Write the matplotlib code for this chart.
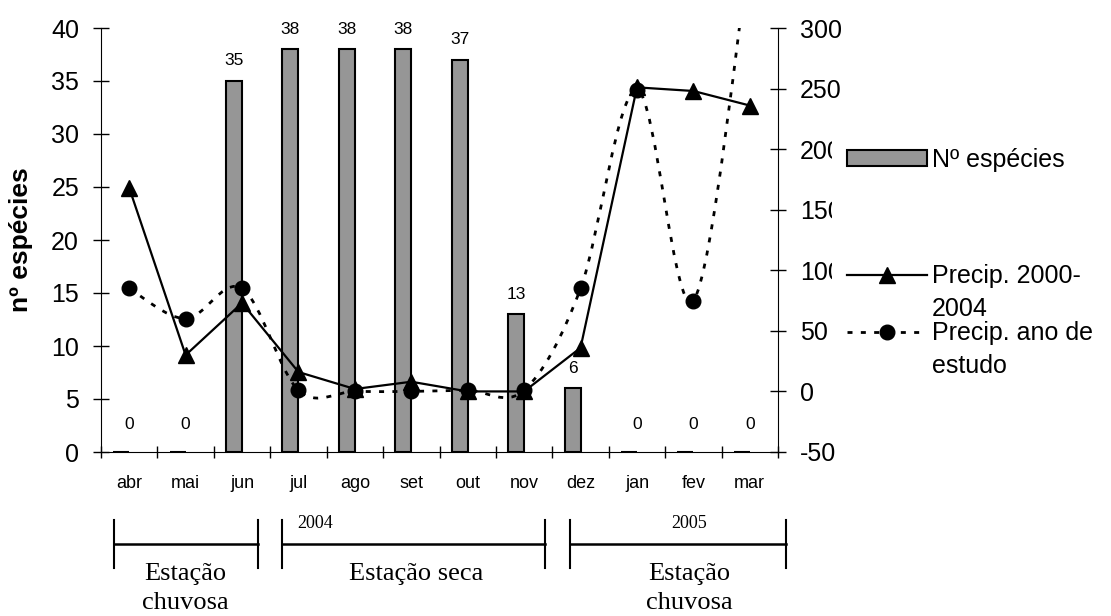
import numpy as np
import matplotlib
matplotlib.use('Agg')
import matplotlib.pyplot as plt
from matplotlib.path import Path
from matplotlib.patches import PathPatch, Rectangle
from matplotlib.lines import Line2D

plt.rcParams['font.family'] = ['Liberation Sans', 'DejaVu Sans']
plt.rcParams['axes.unicode_minus'] = False

# dados
meses = ['abr', 'mai', 'jun', 'jul', 'ago', 'set', 'out', 'nov', 'dez', 'jan', 'fev', 'mar']
n_especies = [0, 0, 35, 38, 38, 38, 37, 13, 6, 0, 0, 0]
precip_media = [168, 30, 73, 16, 2, 8, 0, 0, 36, 251, 248, 236]      # Precip. 2000-2004
precip_estudo = [85, 60, 85, 1, 0, 0, 1, 1, 85, 249, 75, 365]       # Precip. ano de estudo

estacoes = ['Estação\nchuvosa', 'Estação seca', 'Estação\nchuvosa']
anos = ['2004', '2005']

# layout das chaves abaixo do eixo (x em unidades de categoria)
chaves = [(-0.27, 2.28), (2.71, 7.37), (7.82, 11.65)]
estacoes_x = [1.0, 5.09, 9.93]
anos_x = [2.975, 9.93]
anos_ha = ['left', 'center']

tracejado = (0, (1.8, 3.0))


def curva_suave(xs, ys):
    # suavizacao tipo Excel (Bezier com tangentes de Catmull-Rom)
    pts = np.column_stack([xs, ys]).astype(float)
    n = len(pts)
    verts = [pts[0]]
    codes = [Path.MOVETO]
    for i in range(n - 1):
        p0 = pts[max(i - 1, 0)]
        p1 = pts[i]
        p2 = pts[i + 1]
        p3 = pts[min(i + 2, n - 1)]
        verts += [p1 + (p2 - p0) / 6, p2 - (p3 - p1) / 6, p2]
        codes += [Path.CURVE4] * 3
    return Path(verts, codes)


fig = plt.figure(figsize=(11.11, 6.16), dpi=100)
ax = fig.add_axes([101 / 1111, 164 / 616, 677 / 1111, 424 / 616])
ax2 = ax.twinx()

x = np.arange(len(meses))

barras = ax.bar(x - 0.142, n_especies, width=0.284, color='#969696',
                edgecolor='black', linewidth=1.5, zorder=2)
for xi, v in zip(x, n_especies):
    if v > 0:
        ax.annotate(str(v), (xi - 0.142, v), xytext=(0, 14.5), textcoords='offset points',
                    ha='center', va='center', fontsize=12.5, annotation_clip=False)
    else:
        ax.annotate('0', (xi, 0), xytext=(0, 20), textcoords='offset points',
                    ha='center', va='center', fontsize=12.5, annotation_clip=False)

ax2.plot(x, precip_media, color='black', lw=1.6, marker='^', ms=11, zorder=3)
ax2.add_patch(PathPatch(curva_suave(x, precip_estudo), fill=False, edgecolor='black',
                        lw=2, linestyle=tracejado, zorder=3))
ax2.plot(x, precip_estudo, ls='none', marker='o', ms=10.5, color='black', zorder=4)

# eixos
ax.set_xlim(-0.5, 11.5)
ax.set_ylim(0, 40)
ax.set_yticks(range(0, 41, 5))
ax2.set_ylim(-50, 300)
ax2.set_yticks(range(-50, 301, 50))

ax.set_xticks(np.arange(-0.5, 12, 1))
ax.set_xticklabels([])
ax.set_xticks(x, meses, minor=True)
ax.tick_params(axis='x', which='major', direction='inout', length=8.6, width=1)
ax.tick_params(axis='x', which='minor', length=0, pad=16.5, labelsize=13)
ax.tick_params(axis='y', direction='inout', length=11.5, width=1, pad=10, labelsize=18)
ax2.tick_params(axis='y', direction='inout', length=11.5, width=1, pad=10, labelsize=18)

for s in ['top', 'right']:
    ax.spines[s].set_visible(False)
for s in ['top', 'left', 'bottom']:
    ax2.spines[s].set_visible(False)

ax.set_ylabel('nº espécies', fontsize=19, fontweight='bold')
ax.yaxis.set_label_coords(-0.1004, 0.5)

# chaves das estacoes
trans = ax.get_xaxis_transform()
for (x0, x1) in chaves:
    ax.plot([x0, x0], [-0.160, -0.274], transform=trans, clip_on=False, color='black', lw=1.5)
    ax.plot([x1, x1], [-0.160, -0.274], transform=trans, clip_on=False, color='black', lw=1.5)
    ax.plot([x0, x1], [-0.217, -0.217], transform=trans, clip_on=False, color='black', lw=1.8)
for txt, xe in zip(estacoes, estacoes_x):
    for j, linha in enumerate(txt.split('\n')):
        ax.text(xe, -0.302 - 0.0685 * j, linha, transform=trans, ha='center', va='baseline',
                family='Liberation Serif', fontsize=19)
for txt, xa, ha in zip(anos, anos_x, anos_ha):
    ax.text(xa, -0.179, txt, transform=trans, ha=ha, va='baseline',
            family='Liberation Serif', fontsize=13)

# fundo branco da legenda (cobre parte dos rotulos do eixo direito)
fig.add_artist(Rectangle((832 / 1111, 1 - 395 / 616), 279 / 1111, 265 / 616,
                         transform=fig.transFigure, facecolor='white', edgecolor='none', zorder=1))

estilo_leg = dict(frameon=False, borderpad=0, borderaxespad=0, fontsize=18,
                  handlelength=3.2, handletextpad=0.2)
fig.legend([barras], ['Nº espécies'], loc='center left', handleheight=0.64,
           bbox_to_anchor=(847 / 1111, 1 - 160 / 616), **estilo_leg)
# handleheight alto: a linha do simbolo sobe para a primeira linha do rotulo
h_media = Line2D([], [], color='black', lw=1.6, marker='^', ms=11)
leg2 = fig.legend([h_media], ['Precip. 2000-\n2004'], loc='center left', handleheight=5.56,
                  bbox_to_anchor=(847 / 1111, 1 - 296 / 616), **estilo_leg)
h_estudo = Line2D([], [], color='black', lw=2, ls=tracejado, marker='o', ms=10.5)
leg3 = fig.legend([h_estudo], ['Precip. ano de\nestudo'], loc='center left', handleheight=5.56,
                  bbox_to_anchor=(847 / 1111, 1 - 353 / 616), **estilo_leg)
for lg in (leg2, leg3):
    lg.get_texts()[0].set_linespacing(1.48)

fig.savefig('out.png', dpi=100, facecolor='white')
